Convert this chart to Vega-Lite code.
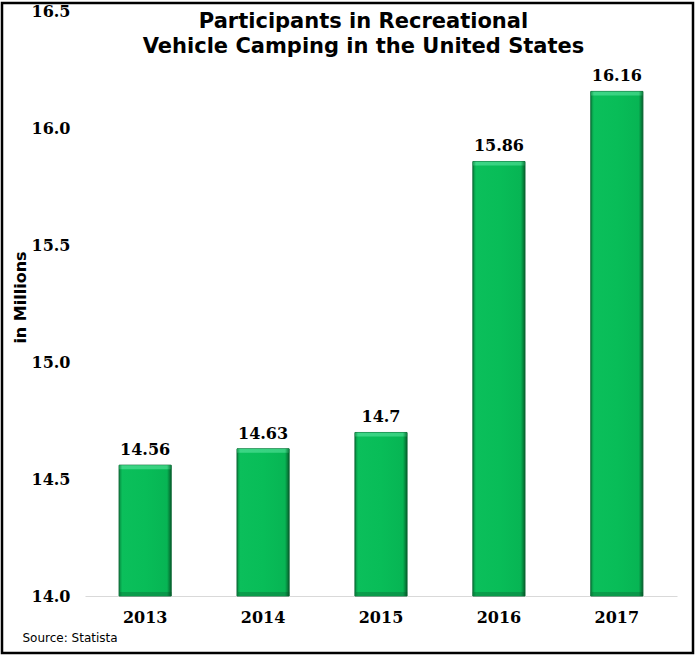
{
  "$schema": "https://vega.github.io/schema/vega-lite/v6.json",
  "width": 691,
  "height": 650,
  "autosize": {"type": "none"},
  "padding": {"left": 2, "top": 3, "right": 7, "bottom": 7},
  "background": "white",
  "config": {
    "view": {"stroke": "black", "strokeWidth": 2.5},
    "font": "DejaVu Sans"
  },
  "title": {
    "text": ["Participants in Recreational", "Vehicle Camping in the United States"],
    "font": "DejaVu Sans",
    "fontSize": 21,
    "fontWeight": "bold",
    "color": "black",
    "anchor": "middle",
    "frame": "group",
    "baseline": "alphabetic",
    "lineHeight": 25.5,
    "dx": 16,
    "offset": -71
  },
  "data": {
    "values": [
      {"year": "2013", "participants": 14.56},
      {"year": "2014", "participants": 14.63},
      {"year": "2015", "participants": 14.7},
      {"year": "2016", "participants": 15.86},
      {"year": "2017", "participants": 16.16}
    ]
  },
  "encoding": {
    "x": {
      "field": "year",
      "type": "nominal",
      "scale": {"range": [83, 675], "paddingInner": 0.558, "paddingOuter": 0.289},
      "axis": {
        "offset": -57,
        "domainColor": "#d9d9d9",
        "domainWidth": 1,
        "ticks": false,
        "tickSize": 0,
        "labelAngle": 0,
        "labelPadding": 13,
        "labelFont": "DejaVu Serif",
        "labelFontWeight": "bold",
        "labelFontSize": 16,
        "labelColor": "black",
        "title": "Source:  Statista",
        "titleFont": "DejaVu Sans",
        "titleFontSize": 12,
        "titleFontWeight": "normal",
        "titleColor": "black",
        "titleAlign": "left",
        "titleAnchor": "start",
        "titleBaseline": "alphabetic",
        "titleX": 20,
        "titleY": 45
      }
    },
    "y": {
      "field": "participants",
      "type": "quantitative",
      "scale": {"domain": [13.756, 16.5385], "nice": false, "zero": false},
      "axis": {
        "values": [14, 14.5, 15, 15.5, 16, 16.5],
        "format": ".1f",
        "offset": -68,
        "domain": false,
        "ticks": false,
        "tickSize": 0,
        "grid": false,
        "labelPadding": 0,
        "labelFont": "DejaVu Serif",
        "labelFontWeight": "bold",
        "labelFontSize": 16,
        "labelColor": "black",
        "title": "in Millions",
        "titleFont": "DejaVu Sans",
        "titleFontSize": 16,
        "titleFontWeight": "bold",
        "titleColor": "black",
        "titleBaseline": "middle",
        "titleAlign": "center",
        "titleAngle": -90,
        "titleX": -50,
        "titleY": 294
      }
    }
  },
  "layer": [
    {
      "mark": {
        "type": "bar",
        "stroke": "#0a6532",
        "strokeWidth": 1,
        "color": {
          "gradient": "linear",
          "x1": 0, "x2": 1, "y1": 0, "y2": 0,
          "stops": [
            {"offset": 0, "color": "#078a40"},
            {"offset": 0.06, "color": "#0bbf5b"},
            {"offset": 0.5, "color": "#08bd58"},
            {"offset": 0.92, "color": "#07b554"},
            {"offset": 1, "color": "#05612c"}
          ]
        }
      },
      "encoding": {"y2": {"datum": 14}}
    },
    {
      "mark": {
        "type": "bar",
        "y2Offset": 4,
        "color": {
          "gradient": "linear",
          "x1": 0, "x2": 1, "y1": 0, "y2": 0,
          "stops": [
            {"offset": 0, "color": "#1a9a52"},
            {"offset": 0.06, "color": "#3bd685"},
            {"offset": 0.92, "color": "#36d07e"},
            {"offset": 1, "color": "#0c7a3c"}
          ]
        }
      },
      "encoding": {"y2": {"field": "participants"}}
    },
    {
      "mark": {
        "type": "bar",
        "yOffset": -4,
        "color": {
          "gradient": "linear",
          "x1": 0, "x2": 1, "y1": 0, "y2": 0,
          "stops": [
            {"offset": 0, "color": "#087a3a"},
            {"offset": 0.06, "color": "#0a9e4b"},
            {"offset": 0.92, "color": "#09984a"},
            {"offset": 1, "color": "#055a2a"}
          ]
        }
      },
      "encoding": {"y": {"datum": 14}, "y2": {"datum": 14}}
    },
    {
      "mark": {
        "type": "text",
        "font": "DejaVu Serif",
        "fontWeight": "bold",
        "fontSize": 16,
        "color": "black",
        "baseline": "alphabetic",
        "align": "center",
        "dy": -10
      },
      "encoding": {"text": {"field": "participants", "type": "quantitative"}}
    }
  ]
}
